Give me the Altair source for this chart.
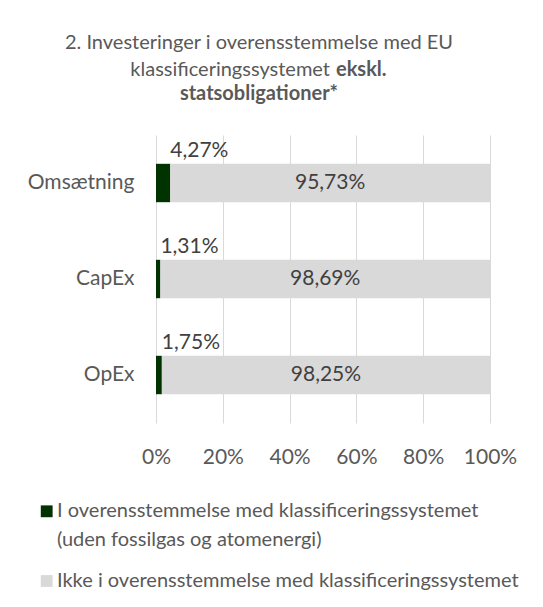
import altair as alt
import pandas as pd

categories = ["Omsætning", "CapEx", "OpEx"]
aligned = [4.27, 1.31, 1.75]
not_aligned = [95.73, 98.69, 98.25]
series_names = [
    "I overensstemmelse med klassificeringssystemet (uden fossilgas og atomenergi)",
    "Ikke i overensstemmelse med klassificeringssystemet",
]
colors = ["#003300", "#d9d9d9"]
x_ticks = [0, 20, 40, 60, 80, 100]
title_line1 = "2. Investeringer i overensstemmelse med EU"
title_line2_normal = "klassificeringssystemet"
title_line2_bold = "ekskl."
title_line3_bold = "statsobligationer*"
legend_line1 = "I overensstemmelse med klassificeringssystemet"
legend_line2 = "(uden fossilgas og atomenergi)"
legend_entry2 = "Ikke i overensstemmelse med klassificeringssystemet"

FONT = "Lato"
GREY_TXT = "#595959"
DARK_TXT = "#404040"

rows = []
for c, a, n in zip(categories, aligned, not_aligned):
    rows.append({"cat": c, "series": series_names[0], "start": 0.0, "end": a, "value": a})
    rows.append({"cat": c, "series": series_names[1], "start": a, "end": a + n, "value": n})
df = pd.DataFrame(rows)

yscale = alt.Scale(domain=categories, paddingInner=0.6, paddingOuter=0.3)
y_enc = alt.Y(
    "cat:N",
    sort=categories,
    scale=yscale,
    title=None,
    axis=alt.Axis(
        ticks=False, domain=False, grid=False, labelPadding=22,
        labelFont=FONT, labelFontSize=21, labelColor=GREY_TXT,
    ),
)
x_enc = alt.X(
    "start:Q",
    scale=alt.Scale(domain=[0, 100], nice=False),
    title=None,
    axis=alt.Axis(
        values=x_ticks, labelExpr="datum.value + '%'", ticks=False, domain=False,
        grid=True, gridColor="#d9d9d9", gridWidth=1, labelPadding=23,
        labelOverlap=False, labelFlush=False,
        labelFont=FONT, labelFontSize=21, labelColor=GREY_TXT,
    ),
)

base = alt.Chart(df)

bars = base.mark_bar().encode(
    y=y_enc,
    x=x_enc,
    x2="end:Q",
    color=alt.Color("series:N", scale=alt.Scale(domain=series_names, range=colors), legend=None),
)

fmt = "replace(format(datum.value, '.2f'), '.', ',') + '%'"

green_labels = base.transform_filter(
    alt.datum.series == series_names[0]
).transform_calculate(lbl=fmt).mark_text(
    align="left", baseline="alphabetic", dy=-26, font=FONT, fontSize=21, color=DARK_TXT
).encode(y=alt.Y("cat:N", sort=categories, scale=yscale), x=alt.X("end:Q"), text="lbl:N")

grey_labels = base.transform_filter(
    alt.datum.series == series_names[1]
).transform_calculate(lbl=fmt, mid="(datum.start + datum.end) / 2").mark_text(
    align="center", baseline="middle", font=FONT, fontSize=21, color=DARK_TXT
).encode(y=alt.Y("cat:N", sort=categories, scale=yscale), x=alt.X("mid:Q"), text="lbl:N")

one = pd.DataFrame({"k": [0]})


def txt(s, x, y, align="left", bold=False, color=GREY_TXT, size=20, baseline="alphabetic"):
    return alt.Chart(one).mark_text(
        align=align, baseline=baseline, font=FONT, fontSize=size,
        fontWeight="bold" if bold else "normal", color=color,
    ).encode(x=alt.value(x), y=alt.value(y), text=alt.value(s))


t1 = txt(title_line1, 103, -86.5, align="center")
t2a = txt(title_line2_normal, 174, -58.8, align="right")
t2b = txt(title_line2_bold, 180, -58.8, align="left", bold=True)
t3 = txt(title_line3_bold, 103, -34.6, align="center", bold=True)

sq1 = alt.Chart(one).mark_square(size=140, opacity=1, color=colors[0]).encode(
    x=alt.value(-109.3), y=alt.value(376.3)
)
sq2 = alt.Chart(one).mark_square(size=140, opacity=1, color=colors[1]).encode(
    x=alt.value(-109.3), y=alt.value(446)
)
l1 = txt(legend_line1, -99, 375.8, baseline="middle")
l2 = txt(legend_line2, -99, 405, baseline="middle")
l3 = txt(legend_entry2, -99, 445.7, baseline="middle")

chart = alt.layer(
    bars, green_labels, grey_labels, t1, t2a, t2b, t3, sq1, sq2, l1, l2, l3
).properties(
    width=334, height=288,
    autosize=alt.AutoSizeParams(type="none"),
    padding={"left": 148, "top": 127, "right": 45, "bottom": 175},
    background="white",
).configure_view(stroke=None)

chart.save("out.html", embed_options={"renderer": "svg", "actions": False})
